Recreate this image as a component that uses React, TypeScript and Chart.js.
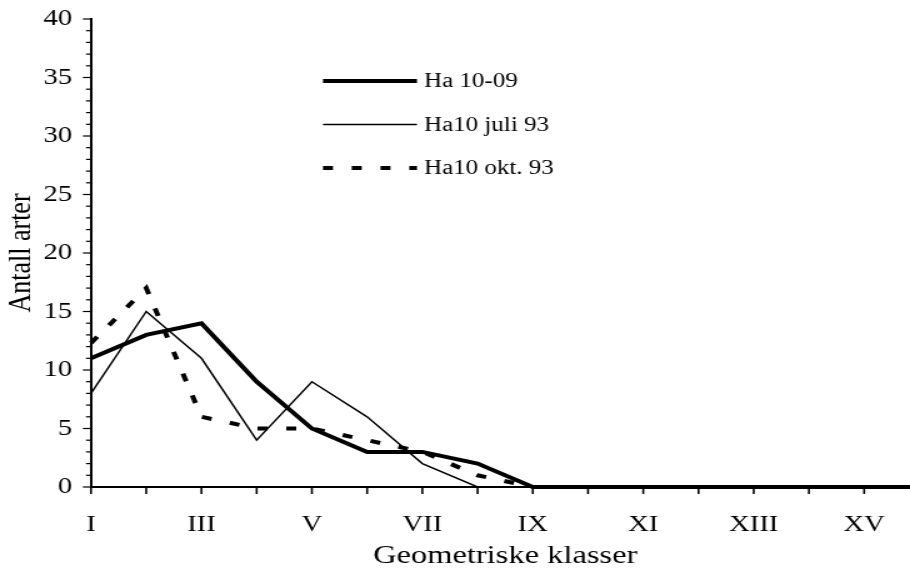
import React, { useEffect, useRef } from 'react';
import { Chart, registerables } from 'chart.js';

Chart.register(...registerables);

// ---- data ----
const categories = ['I', 'II', 'III', 'IV', 'V', 'VI', 'VII', 'VIII', 'IX', 'X', 'XI', 'XII', 'XIII', 'XIV', 'XV', 'XVI'];
const ha1009 = [11, 13, 14, 9, 5, 3, 3, 2, 0, 0, 0, 0, 0, 0, 0, 0];
const juli93 = [8, 15, 11, 4, 9, 6, 2, 0, 0, 0, 0, 0, 0, 0, 0, 0];
const okt93 = [12.3, 17, 6, 5, 5, 4, 3, 1, 0, 0, 0, 0, 0, 0, 0, 0];
const seriesNames = ['Ha 10-09', 'Ha10 juli 93', 'Ha10 okt. 93'];
const yMin = 0;
const yMax = 40;
const yStep = 5;
const xTitle = 'Geometriske klasser';
const yTitle = 'Antall arter';

// ---- rendering setup ----
const SX = 1.25; // the reference is stretched horizontally
const W = 740;
const H = 574;
const FONT = '"Liberation Serif", "Times New Roman", serif';

const lineStyles = [
  { width: 4, dash: [] as number[] },
  { width: 1.5, dash: [] as number[] },
  { width: 4, dash: [8, 15] },
];

const zeroPad = (s: any) => {
  s.paddingTop = 0;
  s.paddingBottom = 0;
  s.paddingLeft = 0;
  s.paddingRight = 0;
};

const tickMarks = {
  id: 'tickMarks',
  beforeDatasetsDraw(chart: any) {
    const { ctx, chartArea, scales } = chart;
    const x = scales.x;
    const y = scales.y;
    ctx.save();
    ctx.strokeStyle = '#000';
    ctx.lineWidth = 1.2;
    for (let v = yMin; v <= yMax; v++) {
      const py = y.getPixelForValue(v);
      const len = v % yStep === 0 ? 6.5 : 4;
      ctx.beginPath();
      ctx.moveTo(chartArea.left - len, py);
      ctx.lineTo(chartArea.left, py);
      ctx.stroke();
    }
    ctx.lineWidth = 1.6;
    categories.forEach((_, i) => {
      const px = x.getPixelForValue(i);
      ctx.beginPath();
      ctx.moveTo(px, chartArea.bottom);
      ctx.lineTo(px, chartArea.bottom + 7);
      ctx.stroke();
    });
    ctx.restore();
  },
};

const customLegend = {
  id: 'customLegend',
  afterDraw(chart: any) {
    const { ctx } = chart;
    const rows = [81, 124.5, 168];
    const x0 = 258.4;
    const x1 = 333.6;
    const tx = 339.2;
    ctx.save();
    seriesNames.forEach((name, i) => {
      const st = lineStyles[i];
      ctx.strokeStyle = '#000';
      ctx.lineWidth = st.width;
      ctx.setLineDash(st.dash);
      ctx.beginPath();
      ctx.moveTo(x0, rows[i]);
      ctx.lineTo(x1, rows[i]);
      ctx.stroke();
      ctx.setLineDash([]);
      ctx.fillStyle = '#000';
      ctx.font = `20px ${FONT}`;
      ctx.textBaseline = 'middle';
      ctx.textAlign = 'left';
      ctx.fillText(name, tx, rows[i] + 1);
    });
    ctx.restore();
  },
};

export default function App() {
  const ref = useRef<HTMLCanvasElement | null>(null);

  useEffect(() => {
    if (!ref.current) return;
    const series = [ha1009, juli93, okt93];
    const chart = new Chart(ref.current, {
      type: 'line',
      data: {
        labels: categories,
        datasets: series.map((d, i) => ({
          label: seriesNames[i],
          data: d,
          borderColor: '#000',
          backgroundColor: '#000',
          borderWidth: lineStyles[i].width,
          borderDash: lineStyles[i].dash,
          pointRadius: 0,
          tension: 0,
          fill: false,
          clip: false as any,
        })),
      },
      options: {
        responsive: false,
        animation: false,
        devicePixelRatio: 1,
        layout: { padding: { left: 0, right: 4.5, top: 19, bottom: 0 } },
        plugins: { legend: { display: false }, tooltip: { enabled: false } },
        scales: {
          x: {
            type: 'category',
            offset: false,
            grid: { display: false, drawTicks: false },
            border: { display: true, color: '#000', width: 2 },
            ticks: {
              autoSkip: false,
              maxRotation: 0,
              minRotation: 0,
              color: '#000',
              padding: 24,
              font: { family: FONT, size: 23 },
              callback: (_v: any, idx: number) => (idx % 2 === 0 ? categories[idx] : ''),
            },
            title: {
              display: true,
              text: xTitle,
              color: '#000',
              font: { family: FONT, size: 26 },
              padding: { top: 0, bottom: 2 },
            },
            afterFit: (s: any) => {
              s.height = 87;
              zeroPad(s);
            },
          },
          y: {
            min: yMin,
            max: yMax,
            grid: { display: false, drawTicks: false },
            border: { display: true, color: '#000', width: 2 },
            ticks: {
              stepSize: yStep,
              color: '#000',
              padding: 15,
              font: { family: FONT, size: 23 },
            },
            title: {
              display: true,
              text: yTitle,
              color: '#000',
              font: { family: FONT, size: 26 },
              padding: { top: 2, bottom: 0 },
            },
            afterFit: (s: any) => {
              s.width = 72.8;
              zeroPad(s);
            },
          },
        },
      },
      plugins: [tickMarks, customLegend],
    });
    return () => chart.destroy();
  }, []);

  return (
    <div
      style={{
        position: 'fixed',
        left: 0,
        top: 0,
        width: 910,
        height: 574,
        overflow: 'hidden',
        background: '#fff',
      }}
    >
      <canvas
        ref={ref}
        width={W}
        height={H}
        style={{ width: W * SX, height: H, display: 'block' }}
      />
    </div>
  );
}
